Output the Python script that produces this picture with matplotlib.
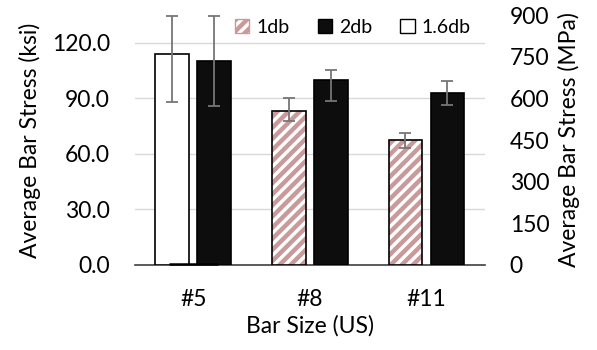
import matplotlib
matplotlib.use("Agg")
import matplotlib.pyplot as plt
from matplotlib.patches import Patch
import numpy as np

# --- data (ksi) -------------------------------------------------------------
categories = ["#5", "#8", "#11"]
db1 = [0.0, 83.2, 67.4]          # 1db (hatched); #5 has no result
db1_err_lo = [0.0, 5.2, 4.2]
db1_err_hi = [0.0, 7.2, 4.1]
db2 = [110.4, 99.8, 93.1]        # 2db (black)
db2_err_lo = [24.8, 11.0, 6.8]
db2_err_hi = [24.2, 5.6, 6.5]
db16 = [113.9, np.nan, np.nan]   # 1.6db (white), only #5
db16_err_lo = [25.8, 0.0, 0.0]
db16_err_hi = [20.7, 0.0, 0.0]

left_ticks = [0, 30, 60, 90, 120]
right_ticks = [0, 150, 300, 450, 600, 750, 900]

plt.rcParams["font.family"] = ["Lato", "DejaVu Sans"]

hatch_col = "#c99a9a"
err_col = "#767676"
grid_col = "#d9d9d9"
fs = 16.5

fig = plt.figure(figsize=(5.97, 3.5), dpi=100)
ax = fig.add_axes([0.226, 0.243, 0.586, 0.714])

x = np.arange(len(categories))
w = 0.29
off = 0.18
ekw = dict(fmt="none", ecolor=err_col, elinewidth=1.3, capsize=4.3,
           capthick=1.3, zorder=4)

# white 1.6db bars at the left slot of #5
ax.bar(x - off, db16, w, color="white", edgecolor="black", linewidth=1.2, zorder=3)
ax.errorbar(x - off, db16, yerr=[db16_err_lo, db16_err_hi], **ekw)

# hatched 1db bars at the left slot of #8 and #11
mask = np.array(db1) > 0
plt.rcParams["hatch.linewidth"] = 3.2
ax.bar(x[mask] - off, np.array(db1)[mask], w, color="white",
       edgecolor=hatch_col, hatch="///", linewidth=0, zorder=3)
ax.bar(x[mask] - off, np.array(db1)[mask], w, fill=False,
       edgecolor="black", linewidth=1.2, zorder=3)
ax.errorbar(x[mask] - off, np.array(db1)[mask],
            yerr=[np.array(db1_err_lo)[mask], np.array(db1_err_hi)[mask]], **ekw)
# zero-height 1db at #5 shows as a flat line at the base
ax.bar(x[~mask], np.array(db1)[~mask], 0.42, bottom=0.6, fill=False,
       edgecolor="black", linewidth=1.8, zorder=5, clip_on=False)

# black 2db bars at the right slot
ax.bar(x + off, db2, w, color="#0d0d0d", edgecolor="black", linewidth=1.2, zorder=3)
ax.errorbar(x + off, db2, yerr=[db2_err_lo, db2_err_hi], **ekw)

ax.set_xlim(-0.5, 2.5)
ax.set_ylim(0, 135)
ax.set_yticks(left_ticks)
ax.set_yticklabels([f"{v:.1f}" for v in left_ticks])
ax.set_xticks(x)
ax.set_xticklabels(categories)
ax.tick_params(axis="y", length=0, pad=18, labelsize=fs)
ax.tick_params(axis="x", length=0, pad=17, labelsize=fs)
ax.yaxis.grid(True, color=grid_col, linewidth=1, zorder=0)
ax.set_axisbelow(True)
for s in ["top", "left", "right"]:
    ax.spines[s].set_visible(False)
ax.spines["bottom"].set_color("#404040")
ax.spines["bottom"].set_linewidth(1.2)
ax.set_ylabel("Average Bar Stress (ksi)", fontsize=fs, labelpad=8)
ax.set_xlabel("Bar Size (US)", fontsize=fs, labelpad=4)

ax2 = ax.twinx()
ax2.set_ylim(0, 900)
ax2.set_yticks(right_ticks)
ax2.tick_params(axis="y", length=0, pad=18, labelsize=fs)
for s in ["top", "left", "right", "bottom"]:
    ax2.spines[s].set_visible(False)
ax2.set_ylabel("Average Bar Stress (MPa)", fontsize=fs, labelpad=6)

handles = [
    Patch(facecolor="white", edgecolor=hatch_col, hatch="///", label="1db"),
    Patch(facecolor="#0d0d0d", edgecolor="black", label="2db"),
    Patch(facecolor="white", edgecolor="black", label="1.6db"),
]
leg = ax.legend(handles=handles, loc="center", bbox_to_anchor=(0.623, 0.95),
                ncol=3, frameon=False, fontsize=14, handlelength=0.75,
                handleheight=0.75, handletextpad=0.35, columnspacing=1.45)

fig.savefig("out.png", dpi=100)
